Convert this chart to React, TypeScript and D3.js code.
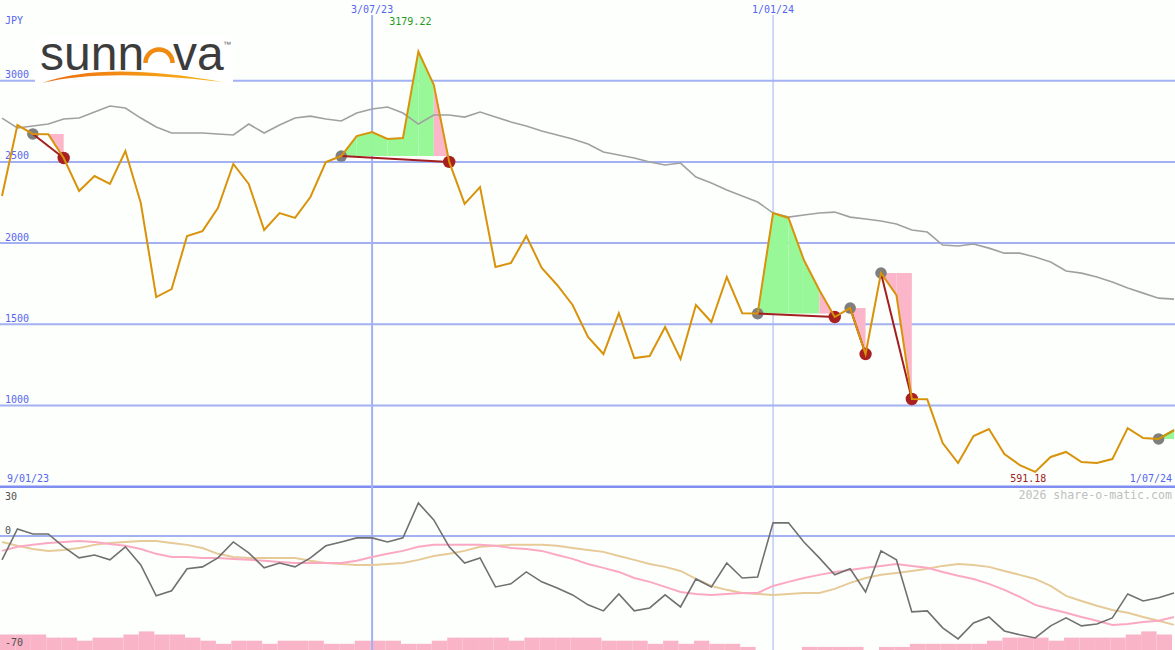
import React from 'react';
import * as d3 from 'd3';

const W = 1175;
const H = 650;

// weekly closes, first week 16 Jan 2023
const firstWeek = new Date(2023, 0, 16);

const price = [
  2290, 2727, 2672, 2670, 2524, 2321, 2413, 2364, 2567, 2247,
  1668, 1717, 2044, 2074, 2216, 2487, 2364, 2081, 2185, 2155,
  2284, 2499, 2536, 2659, 2684, 2641, 2647, 3179.22, 2974, 2500,
  2241, 2345, 1853, 1877, 2044, 1847, 1742, 1619, 1422, 1317,
  1569, 1292, 1305, 1483, 1286, 1619, 1514, 1791, 1568, 1566,
  2185, 2155, 1896, 1711, 1545, 1600, 1317, 1816, 1680, 1040,
  1038, 769, 646, 812, 855, 701, 633, 591.18, 683, 714,
  652, 646, 670, 861, 800, 794, 849,
];

const movingAvg = [
  2770, 2709, 2721, 2733, 2764, 2770, 2807, 2844, 2832, 2770,
  2715, 2678, 2678, 2678, 2672, 2666, 2733, 2678, 2727, 2770,
  2782, 2764, 2752, 2801, 2826, 2838, 2801, 2733, 2789, 2789,
  2776, 2807, 2776, 2746, 2721, 2690, 2666, 2641, 2610, 2561,
  2542, 2524, 2499, 2481, 2493, 2407, 2370, 2327, 2290, 2253,
  2185, 2160, 2173, 2185, 2191, 2160, 2148, 2136, 2118, 2081,
  2068, 1988, 1982, 1994, 1969, 1938, 1938, 1914, 1883, 1828,
  1815, 1791, 1760, 1723, 1692, 1661, 1655,
];

const momentum = [
  -14.7, 4.3, 1.2, 1.2, -6.7, -13.5, -11.7, -14.7, -6.7, -17.8,
  -36.8, -33.7, -20.2, -19, -13.5, -3.7, -10.4, -19.6, -16.6, -19,
  -13.5, -6.1, -3.7, -1.2, -1.2, -3.7, -1.2, 20.2, 9.8, -6.7,
  -16.6, -13.5, -31.3, -29.4, -22.1, -28.2, -31.9, -36.2, -42.3, -46,
  -35.6, -46, -44.2, -36.2, -43.6, -26.4, -31.3, -16.6, -25.8, -25.2,
  8, 8, -3.7, -13.5, -23.9, -20.2, -34.4, -9.2, -14.7, -46.6,
  -46, -56.4, -63.2, -53.4, -49.7, -58.3, -60.7, -62.6, -55.2, -50.3,
  -55.2, -54, -50.3, -35.6, -39.9, -38, -35,
];

const pinkAvg = [
  -9.2, -6.7, -5.5, -4.3, -3.7, -3.1, -3.7, -4.9, -6.1, -8,
  -11, -12.9, -12.9, -13.5, -13.5, -14.1, -14.7, -15.3, -16, -16.6,
  -16.6, -16.6, -16.6, -15.3, -12.9, -11, -9.2, -6.7, -5.5, -5.5,
  -5.5, -5.5, -6.1, -7.4, -8, -9.2, -11.7, -14.1, -17.2, -19.6,
  -22.1, -25.8, -28.2, -31.3, -34.4, -35.6, -36.2, -35.6, -35, -35,
  -30.7, -28.2, -25.8, -23.9, -22.1, -20.9, -19.6, -18.4, -17.2, -18.4,
  -19.6, -22.1, -24.5, -26.4, -29.4, -33.1, -37.4, -42.3, -44.8, -47.2,
  -49.7, -52.1, -54.6, -54, -52.8, -52.1, -49.7,
];

const tanAvg = [
  -3.7, -6.1, -8, -9.2, -8.6, -7.4, -5.5, -4.3, -3.7, -3.1,
  -3.1, -4.3, -5.5, -7.4, -11, -12.9, -13.5, -13.5, -13.5, -13.5,
  -15.3, -16.6, -17.2, -17.8, -17.8, -17.2, -16.6, -14.7, -12.3, -11,
  -9.2, -6.7, -6.1, -5.5, -5.5, -5.5, -6.1, -7.4, -8.6, -9.8,
  -12.3, -14.7, -17.2, -19, -21.5, -26.4, -30.7, -33.1, -35, -35.6,
  -36.2, -35.6, -35, -35, -32.5, -28.8, -25.8, -23.9, -22.7, -21.5,
  -20.2, -18.4, -17.2, -17.8, -19, -21.5, -23.9, -26.4, -30.7, -36.8,
  -39.9, -42.9, -45.4, -47.2, -49.7, -52.1, -54.6,
];

const volume = [
  5, 5, 5, 4, 4, 3, 4, 4, 5, 6,
  5, 5, 4, 3, 2, 3, 3, 2, 3, 3,
  3, 2, 2, 3, 3, 3, 2, 2, 3, 4,
  4, 4, 4, 3, 4, 4, 4, 4, 4, 3,
  3, 3, 2, 3, 2, 3, 2, 2, 1, 0,
  0, 0, 1, 1, 1, 1, 0, 1, 1, 2,
  2, 2, 2, 2, 3, 4, 4, 4, 3, 4,
  4, 4, 4, 5, 6, 5,
];

const priceTicks = [3000, 2500, 2000, 1500, 1000];
const lowerTicks = [30, 0, -70];

const dateLines = [
  { date: new Date(2023, 6, 3), label: '3/07/23', width: 2 },
  { date: new Date(2024, 0, 1), label: '1/01/24', width: 1 },
];

// entry / exit week indexes of the signals (exit null = still open)
const trades: { entry: number; exit: number | null }[] = [
  { entry: 2, exit: 4 },
  { entry: 22, exit: 29 },
  { entry: 49, exit: 54 },
  { entry: 55, exit: 56 },
  { entry: 57, exit: 59 },
  { entry: 75, exit: null },
];

const dates = price.map((_, i) => d3.timeWeek.offset(firstWeek, i));

const BLUE_GRID = '#a3b1f2';
const BLUE_TEXT = '#5566ee';
const MONO = '"DejaVu Sans Mono", monospace';
const LOGO_FONT = '"Liberation Sans", Arial, sans-serif';

const App: React.FC = () => {
  const x = d3.scaleTime().domain([dates[0], dates[dates.length - 1]]).range([2, 1174]);
  const y = d3.scaleLinear().domain([500, 3000]).range([486.7, 80.7]);
  const yLow = d3.scaleLinear().domain([-70, 30]).range([650, 487]);
  const yVol = d3.scaleLinear().domain([0, 10]).range([650, 619]);

  const priceLine = d3.line<number>().x((_, i) => x(dates[i])).y(d => y(d));
  const lowLine = d3.line<number>().x((_, i) => x(dates[i])).y(d => yLow(d));

  const maxIdx = d3.maxIndex(price);
  const minIdx = d3.minIndex(price);

  const fills: { d: string; color: string }[] = [];
  trades.forEach(t => {
    const level = price[t.entry];
    const end = t.exit ?? price.length - 1;
    for (let i = t.entry; i < end; i++) {
      const x0 = x(dates[i]);
      const x1 = x(dates[i + 1]);
      const path = d3.path();
      path.moveTo(x0, y(level));
      path.lineTo(x0, y(price[i]));
      path.lineTo(x1, y(price[i + 1]));
      path.lineTo(x1, y(level));
      path.closePath();
      const last = t.exit !== null && i + 1 === t.exit;
      const below = price[i + 1] < level && price[i] <= level;
      fills.push({ d: path.toString(), color: last || below ? '#fbb6c9' : '#98f898' });
    }
  });

  return (
    <svg width={W} height={H} style={{ display: 'block', background: '#fdfffd' }}>
      <style>{'body{margin:0}'}</style>
      <rect width={W} height={H} fill="#fdfffd" />

      {/* volume bars */}
      {volume.map((v, i) => (
        <rect
          key={'v' + i}
          x={x(dates[i]) - 2}
          width={x(dates[i + 1]) - x(dates[i])}
          y={yVol(v)}
          height={yVol(0) - yVol(v)}
          fill="#f9b4c8"
        />
      ))}

      {/* horizontal grid */}
      {priceTicks.map(t => (
        <line key={'g' + t} x1={0} x2={W} y1={y(t)} y2={y(t)} stroke={BLUE_GRID} strokeWidth={2} />
      ))}
      <line x1={0} x2={W} y1={yLow(0)} y2={yLow(0)} stroke={BLUE_GRID} strokeWidth={2} />
      <line x1={0} x2={W} y1={y(500)} y2={y(500)} stroke="#7f8ef0" strokeWidth={2.5} />

      {/* vertical date lines */}
      {dateLines.map(d => (
        <g key={d.label}>
          <line x1={x(d.date)} x2={x(d.date)} y1={15} y2={H} stroke={BLUE_GRID} strokeWidth={d.width} />
          <text x={x(d.date)} y={13} textAnchor="middle" fontFamily={MONO} fontSize={10} fill={BLUE_TEXT}>
            {d.label}
          </text>
        </g>
      ))}

      {/* logo */}
      <rect x={35} y={36} width={198} height={50} fill="#ffffff" />
      <defs>
        <linearGradient id="swoosh" x1="0" x2="1" y1="0" y2="0">
          <stop offset="0%" stopColor="#ee6a10" />
          <stop offset="100%" stopColor="#f8b818" />
        </linearGradient>
      </defs>
      <text x={40} y={70} fontFamily={LOGO_FONT} fontSize={48} fill="#3c3c3c">sunn</text>
      <path d="M145.5,63 A13.5,13.5 0 0 1 172.5,63" fill="none" stroke="#f08a10" strokeWidth={4.5} />
      <text x={173} y={70} fontFamily={LOGO_FONT} fontSize={48} fill="#3c3c3c">va</text>
      <text x={223} y={47} fontFamily={LOGO_FONT} fontSize={8} fill="#666">™</text>
      <path d="M42,83 Q105,60.5 222,82 Q105,68 42,83 Z" fill="url(#swoosh)" />

      {/* price axis labels */}
      <text x={5} y={24} fontFamily={MONO} fontSize={10} fill={BLUE_TEXT}>JPY</text>
      {priceTicks.map(t => (
        <text key={'l' + t} x={5} y={y(t) - 2.5} fontFamily={MONO} fontSize={10} fill={BLUE_TEXT}>
          {t}
        </text>
      ))}

      {/* trade fills */}
      {fills.map((f, i) => (
        <path key={'f' + i} d={f.d} fill={f.color} />
      ))}

      {/* moving average */}
      <path d={priceLine(movingAvg) ?? ''} fill="none" stroke="#a0a0a0" strokeWidth={1.6} />

      {/* signal circles */}
      {trades.map(t => (
        <g key={'c' + t.entry}>
          <circle cx={x(dates[t.entry])} cy={y(price[t.entry])} r={5.8} fill="#7f7f7f" />
          {t.exit !== null && (
            <circle cx={x(dates[t.exit])} cy={y(price[t.exit])} r={6.2} fill="#a82020" />
          )}
        </g>
      ))}

      {/* trade connection lines */}
      {trades.map(t => {
        const end = t.exit ?? price.length - 1;
        return (
          <line
            key={'t' + t.entry}
            x1={x(dates[t.entry])}
            y1={y(price[t.entry])}
            x2={x(dates[end])}
            y2={y(price[end])}
            stroke={t.exit === null ? '#2ca02c' : '#a31f1f'}
            strokeWidth={2}
          />
        );
      })}

      {/* price */}
      <path d={priceLine(price) ?? ''} fill="none" stroke="#d8930b" strokeWidth={2} />

      {/* max / min labels */}
      <text x={x(dates[maxIdx]) - 8} y={25} textAnchor="middle" fontFamily={MONO} fontSize={10} fill="#229922">
        {price[maxIdx].toFixed(2)}
      </text>
      <text x={x(dates[minIdx]) - 7} y={482} textAnchor="middle" fontFamily={MONO} fontSize={10} fill="#a02020">
        {price[minIdx].toFixed(2)}
      </text>

      <text x={7} y={482} fontFamily={MONO} fontSize={10} fill={BLUE_TEXT}>9/01/23</text>
      <text x={1172} y={482} textAnchor="end" fontFamily={MONO} fontSize={10} fill={BLUE_TEXT}>
        {d3.timeFormat('%-d/%m/%y')(dates[dates.length - 1])}
      </text>
      <text x={1172} y={499} textAnchor="end" fontFamily={MONO} fontSize={11.6} fill="#c0c0c0">
        2026 share-o-matic.com
      </text>

      {/* lower panel */}
      <path d={lowLine(tanAvg) ?? ''} fill="none" stroke="#e6ca98" strokeWidth={2} />
      <path d={lowLine(pinkAvg) ?? ''} fill="none" stroke="#fba9c2" strokeWidth={2} />
      <path d={lowLine(momentum) ?? ''} fill="none" stroke="#707070" strokeWidth={1.6} />
      {lowerTicks.map(t => (
        <text
          key={'lt' + t}
          x={5}
          y={t === 30 ? yLow(t) + 13 : t === 0 ? yLow(t) - 2 : yLow(t) - 4}
          fontFamily={MONO}
          fontSize={10}
          fill="#505050"
        >
          {t}
        </text>
      ))}
    </svg>
  );
};

export default App;
